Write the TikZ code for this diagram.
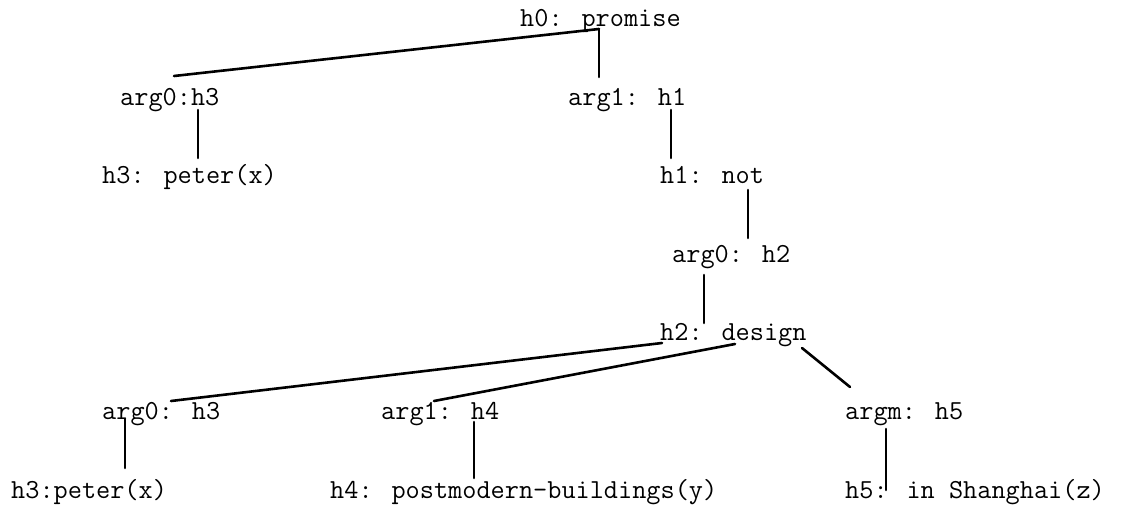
\documentclass[tikz,border=0pt]{standalone}
\usepackage{fontspec}
\usetikzlibrary{calc}
\begin{document}
\begin{tikzpicture}[x=1pt,y=-1pt,
  lbl/.style={anchor=base west,inner sep=0pt,font=\ttfamily\fontsize{27.5}{32}\selectfont\addfontfeature{FakeStretch=1.08,FakeBold=0.8}},
  edge/.style={line width=2.6pt,line cap=round}]
\useasboundingbox (0,0) rectangle (1125,527);
\fill[white] (0,0) rectangle (1125,527);
\node[lbl] (h0) at (520,27) {h0: promise};
\node[lbl] (a0) at (120,106) {arg0:h3};
\node[lbl] (a1) at (568,106) {arg1: h1};
\node[lbl] (h3a) at (102,183) {h3: peter(x)};
\node[lbl] (h1) at (660,183) {h1: not};
\node[lbl] (a2) at (672,262) {arg0: h2};
\node[lbl] (h2) at (660,340) {h2: design};
\node[lbl] (b0) at (102,419) {arg0: h3};
\node[lbl] (b1) at (381,419) {arg1: h4};
\node[lbl] (bm) at (845,419) {argm: h5};
\node[lbl] (h3b) at (11,498) {h3:peter(x)};
\node[lbl] (h4) at (330,498) {h4: postmodern-buildings(y)};
\node[lbl] (h5) at (845,498) {h5: in Shanghai(z)};
\draw[edge] ($(h0.base west)+(79,2)$) -- ($(a0.base west)+(54,-30)$);
\draw[edge] ($(h0.base west)+(79,2)$) -- ($(a1.base west)+(31,-29)$);
\draw[edge] ($(a0.base west)+(78,4)$) -- ($(h3a.base west)+(96,-25)$);
\draw[edge] ($(a1.base west)+(103,4)$) -- ($(h1.base west)+(11,-25)$);
\draw[edge] ($(h1.base west)+(88,7)$) -- ($(a2.base west)+(76,-24)$);
\draw[edge] ($(a2.base west)+(32,13)$) -- ($(h2.base west)+(44,-17)$);
\draw[edge] ($(h2.base west)+(2,3)$) -- ($(b0.base west)+(69,-18)$);
\draw[edge] ($(h2.base west)+(75,4)$) -- ($(b1.base west)+(53,-18)$);
\draw[edge] ($(h2.base west)+(142,8)$) -- ($(bm.base west)+(5,-32)$);
\draw[edge] ($(b0.base west)+(23,0)$) -- ($(h3b.base west)+(114,-30)$);
\draw[edge] ($(b1.base west)+(93,3)$) -- ($(h4.base west)+(144,-20)$);
\draw[edge] ($(bm.base west)+(41,10)$) -- ($(h5.base west)+(41,-8)$);
\end{tikzpicture}
\end{document}
